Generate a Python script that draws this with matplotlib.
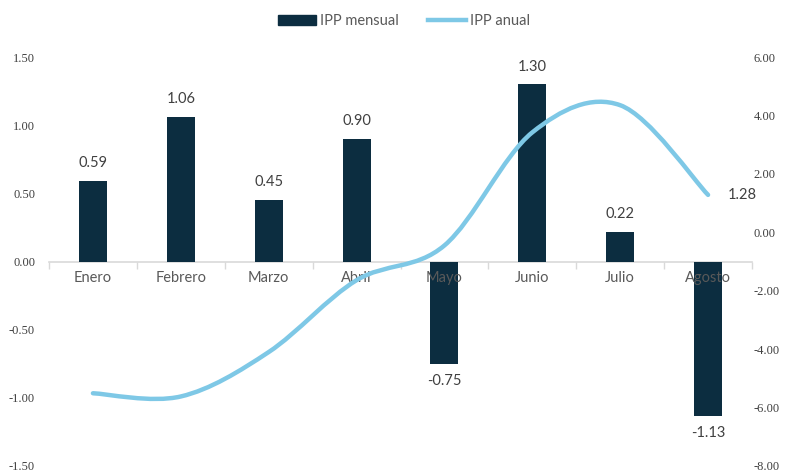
#!/usr/bin/env python3
"""
IPP mensual (barras) e IPP anual (linea suavizada), enero-agosto.
"""

import numpy as np
import matplotlib.pyplot as plt
from matplotlib.path import Path
from matplotlib.patches import PathPatch, Patch
from matplotlib.lines import Line2D

# Data
meses = ['Enero', 'Febrero', 'Marzo', 'Abril', 'Mayo', 'Junio', 'Julio', 'Agosto']
ipp_mensual = [0.59, 1.06, 0.45, 0.90, -0.75, 1.30, 0.22, -1.13]
ipp_anual = [-5.51, -5.62, -4.10, -1.64, -0.45, 3.42, 4.35, 1.28]

left_ticks = [-1.5, -1.0, -0.5, 0.0, 0.5, 1.0, 1.5]
right_ticks = [-8, -6, -4, -2, 0, 2, 4, 6]

BAR_COLOR = '#0c2d40'
LINE_COLOR = '#7ec8e6'
LABEL_FONT = ['Lato', 'DejaVu Sans']
TICK_FONT = ['Liberation Serif', 'DejaVu Serif']


def smooth_path(xs, ys):
    """Bezier path through the points (Catmull-Rom style, like Excel's smoothed line)."""
    pts = np.column_stack([xs, ys]).astype(float)
    verts = [pts[0]]
    codes = [Path.MOVETO]
    n = len(pts)
    for i in range(n - 1):
        p0 = pts[i - 1] if i > 0 else pts[i]
        p1, p2 = pts[i], pts[i + 1]
        p3 = pts[i + 2] if i + 2 < n else pts[i + 1]
        c1 = p1 + (p2 - p0) / 6.0
        c2 = p2 - (p3 - p1) / 6.0
        verts += [c1, c2, p2]
        codes += [Path.CURVE4] * 3
    return Path(verts, codes)


fig = plt.figure(figsize=(7.92, 4.72), dpi=100)
ax = fig.add_axes([49 / 792, 6 / 472, 703 / 792, 409 / 472])
x = np.arange(len(meses))

ax.bar(x, ipp_mensual, width=0.32, color=BAR_COLOR, zorder=2)
for xi, v in zip(x, ipp_mensual):
    off = 0.13 if v >= 0 else -0.13
    ax.text(xi, v + off, f'{v:.2f}', ha='center', va='center',
            fontsize=10.5, color='#404040', family=LABEL_FONT)

ax.set_xlim(-0.5, len(meses) - 0.5)
ax.set_ylim(-1.5, 1.5)
ax.set_axisbelow(False)  # month names sit on top of the negative bars
ax.set_yticks(left_ticks)
ax.set_yticklabels([f'{t:.2f}' for t in left_ticks], family=TICK_FONT,
                   fontsize=9, color='#404040')
ax.tick_params(axis='y', length=0, pad=10)

for s in ['top', 'right', 'left']:
    ax.spines[s].set_visible(False)
ax.spines['bottom'].set_position(('data', 0))
ax.spines['bottom'].set_color('#d9d9d9')
ax.spines['bottom'].set_linewidth(1.2)
ax.spines['bottom'].set_zorder(1.5)

ax.set_xticks(np.arange(len(meses) + 1) - 0.5)
ax.set_xticklabels([])
ax.tick_params(axis='x', which='major', length=5, color='#d9d9d9', width=1)
ax.set_xticks(x, minor=True)
ax.set_xticklabels(meses, minor=True, family=LABEL_FONT, fontsize=10.5,
                   color='#595959')
ax.tick_params(axis='x', which='minor', length=0, pad=7)

# Annual line on the right axis
ax2 = ax.twinx()
ax2.set_ylim(-8, 6)
ax2.set_yticks(right_ticks)
ax2.set_yticklabels([f'{t:.2f}' for t in right_ticks], family=TICK_FONT,
                    fontsize=9, color='#404040')
ax2.tick_params(axis='y', length=0, pad=1)
for s in ax2.spines.values():
    s.set_visible(False)

ax2.add_patch(PathPatch(smooth_path(x, ipp_anual), fill=False,
                        edgecolor=LINE_COLOR, linewidth=3.2,
                        capstyle='round', joinstyle='round'))
ax2.text(x[-1] + 0.22, ipp_anual[-1], f'{ipp_anual[-1]:.2f}', ha='left',
         va='center', fontsize=10.5, color='#404040', family=LABEL_FONT)

handles = [Patch(color=BAR_COLOR, label='IPP mensual'),
           Line2D([], [], color=LINE_COLOR, linewidth=3.2, label='IPP anual')]
fig.legend(handles=handles, loc='center', bbox_to_anchor=(0.51, 0.955),
           ncol=2, frameon=False, prop={'family': LABEL_FONT, 'size': 10.5},
           labelcolor='#595959', handlelength=2.6, handleheight=0.7,
           columnspacing=2.0, handletextpad=0.3)

fig.savefig('out.png', dpi=100)
